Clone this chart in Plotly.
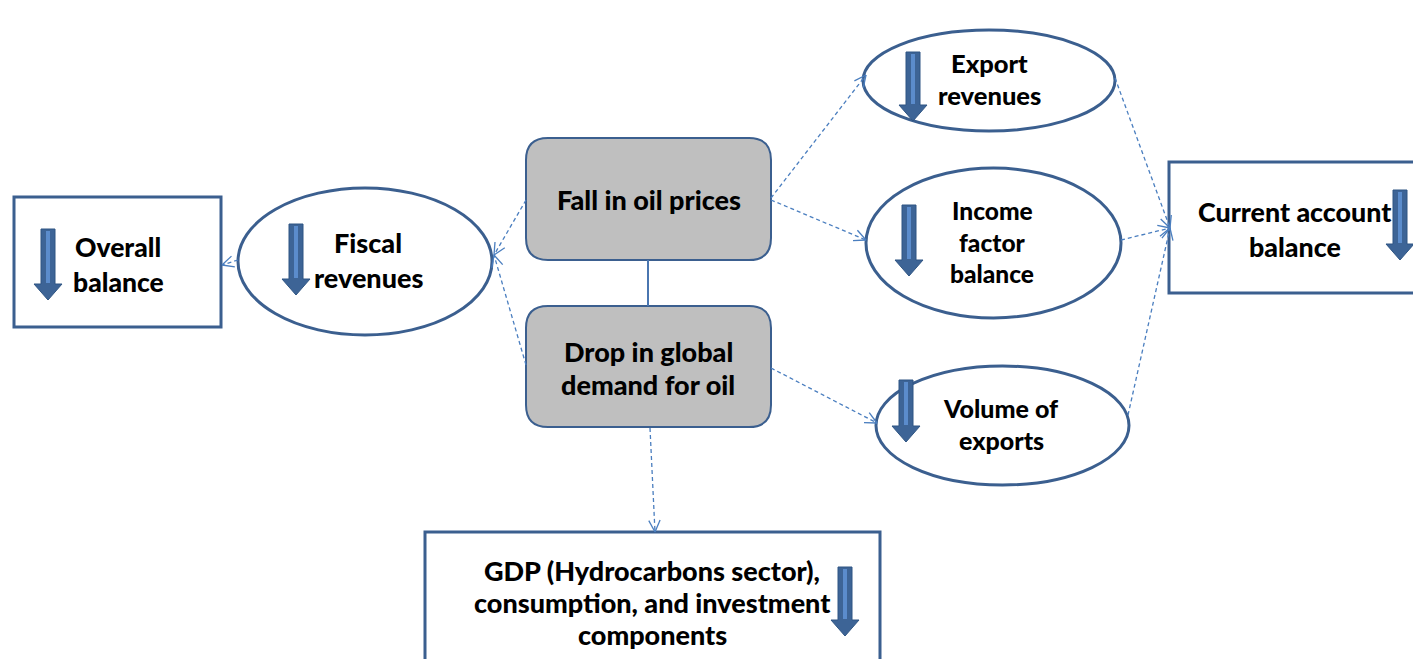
import math
import plotly.graph_objects as go

W, H = 1413, 659
BORDER = "#3b5f8f"
DASH = "#4a7ebf"
GREY = "#bfbfbf"
FONT = "Lato"

# Nodes: name, kind, x0, y0, x1, y1
node_names = ["overall", "fiscal", "fall", "drop", "export", "income", "volume", "current", "gdp"]
node_kind = ["rect", "ellipse", "round", "round", "ellipse", "ellipse", "ellipse", "rect", "rect"]
node_x0 = [14, 238, 526, 526, 863, 866, 876, 1169, 425]
node_y0 = [197, 188, 138, 306, 30, 168, 366, 162, 532]
node_x1 = [221, 492, 771, 771, 1115, 1121, 1129, 1430, 880]
node_y1 = [327, 335, 260, 427, 131, 318, 485, 293, 690]

# Text lines: (text, cx, cy, size)
text_lines = [
    ("Overall", 118, 247, 26.5), ("balance", 118, 282, 26.5),
    ("Fiscal", 368, 242, 27), ("revenues", 368, 277, 27),
    ("Fall in oil prices", 649, 199, 27),
    ("Drop in global", 648, 351, 27), ("demand for oil", 648, 384, 27),
    ("Export", 989, 63, 25.5), ("revenues", 989, 95, 25.5),
    ("Income", 992, 210, 24.5), ("factor", 992, 242, 24.5), ("balance", 992, 273, 24.5),
    ("Volume of", 1001, 408, 25), ("exports", 1001, 440, 25),
    ("Current account", 1295, 212, 26.8), ("balance", 1295, 247, 26.8),
    ("GDP (Hydrocarbons sector),", 652, 570, 27),
    ("consumption, and investment", 652, 602, 27),
    ("components", 652, 634, 27),
]

# Block down-arrows: x, top, bottom
down_x = [48, 296, 913, 909, 906, 1400, 845]
down_top = [229, 224, 52, 205, 380, 190, 567]
down_bot = [300, 295, 121, 276, 442, 260, 636]

# Dashed connectors: start -> end (arrowhead at end)
conn_x0 = [526, 526, 238, 771, 771, 771, 650, 1115, 1121, 1128]
conn_y0 = [200, 365, 260, 198, 200, 368, 428, 78, 240, 415]
conn_x1 = [494, 494, 222, 866, 866, 877, 655, 1170, 1170, 1170]
conn_y1 = [255, 255, 265, 75, 240, 423, 532, 228, 228, 228]

fig = go.Figure()
shapes = []


def rounded_path(x0, y0, x1, y1, r):
    return (f"M {x0+r},{y0} L {x1-r},{y0} Q {x1},{y0} {x1},{y0+r} "
            f"L {x1},{y1-r} Q {x1},{y1} {x1-r},{y1} L {x0+r},{y1} "
            f"Q {x0},{y1} {x0},{y1-r} L {x0},{y0+r} Q {x0},{y0} {x0+r},{y0} Z")


for k, x0, y0, x1, y1 in zip(node_kind, node_x0, node_y0, node_x1, node_y1):
    if k == "rect":
        shapes.append(dict(type="rect", x0=x0, y0=y0, x1=x1, y1=y1,
                           line=dict(color=BORDER, width=3), fillcolor="white", layer="below"))
    elif k == "ellipse":
        shapes.append(dict(type="circle", x0=x0, y0=y0, x1=x1, y1=y1,
                           line=dict(color=BORDER, width=3), fillcolor="white", layer="below"))
    else:
        shapes.append(dict(type="path", path=rounded_path(x0, y0, x1, y1, 22),
                           line=dict(color=BORDER, width=2), fillcolor=GREY, layer="below"))

# solid connector between the two grey boxes
shapes.append(dict(type="line", x0=648, y0=260, x1=648, y1=306,
                   line=dict(color="#4a76b0", width=2)))

# dashed connectors with open arrowheads
for xs, ys, xe, ye in zip(conn_x0, conn_y0, conn_x1, conn_y1):
    shapes.append(dict(type="line", x0=xs, y0=ys, x1=xe, y1=ye,
                       line=dict(color=DASH, width=1.3, dash="4px,3px")))
    ang = math.atan2(ye - ys, xe - xs)
    L = 13
    for d in (0.45, -0.45):
        a = ang + math.pi + d
        shapes.append(dict(type="line", x0=xe, y0=ye,
                           x1=xe + L * math.cos(a), y1=ye + L * math.sin(a),
                           line=dict(color=DASH, width=1.3)))

# block arrows
for x, t, b in zip(down_x, down_top, down_bot):
    sw, hw, hh = 7, 14, 16
    p = (f"M {x-sw},{t} L {x+sw},{t} L {x+sw},{b-hh} L {x+hw},{b-hh} "
         f"L {x},{b} L {x-hw},{b-hh} L {x-sw},{b-hh} Z")
    shapes.append(dict(type="path", path=p, fillcolor="#3d6496",
                       line=dict(color="#2f5583", width=1)))
    shapes.append(dict(type="rect", x0=x - 2, x1=x + 2, y0=t + 2, y1=b - hh - 1,
                       fillcolor="#5b8ccc", line=dict(width=0)))

annotations = []
for txt, cx, cy, sz in text_lines:
    annotations.append(dict(x=cx, y=cy, text=txt, showarrow=False,
                            xref="x", yref="y", xanchor="center", yanchor="middle",
                            font=dict(family=FONT, size=sz, color="black", weight=900)))

fig.update_layout(
    width=W, height=H, margin=dict(l=0, r=0, t=0, b=0),
    paper_bgcolor="white", plot_bgcolor="white",
    xaxis=dict(range=[0, W], visible=False, fixedrange=True),
    yaxis=dict(range=[H, 0], visible=False, fixedrange=True),
    shapes=shapes, annotations=annotations, showlegend=False,
)
fig.write_html("out.html", config={"displayModeBar": False},
               post_script="document.body.style.margin='0';document.body.style.overflow='hidden';")
